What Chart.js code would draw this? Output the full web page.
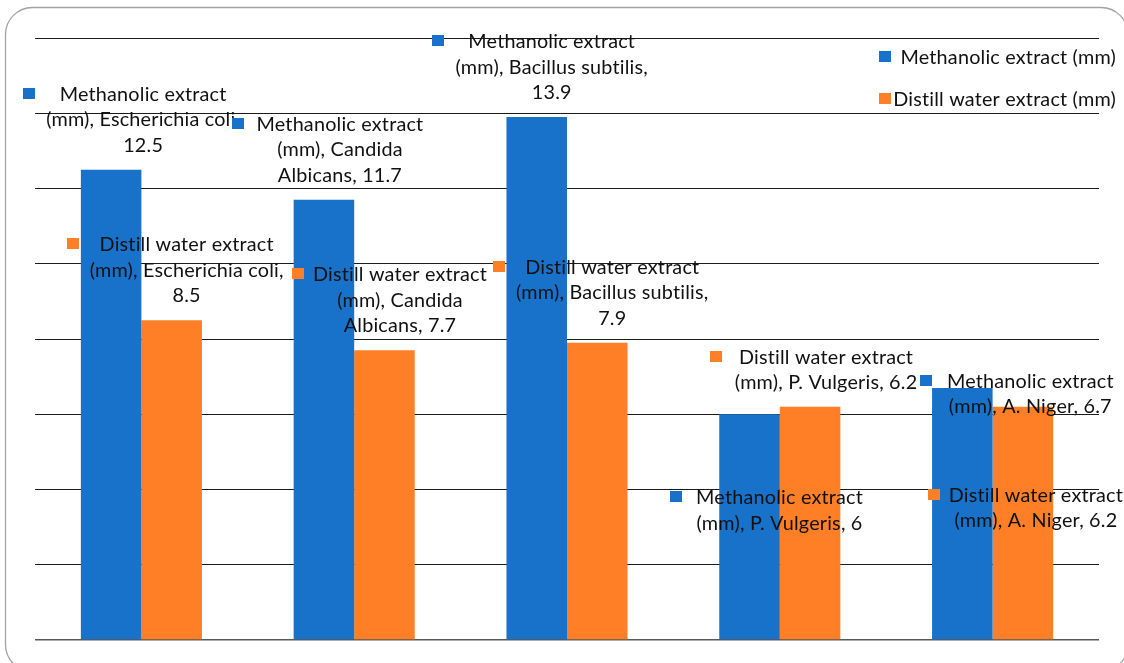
<!DOCTYPE html>
<html>
<head>
<meta charset="utf-8">
<script src="https://cdn.jsdelivr.net/npm/chart.js@4.4.1/dist/chart.umd.min.js"></script>
<style>
  html, body { margin: 0; padding: 0; background: #ffffff; }
  #wrap { width: 1124px; height: 663px; }
</style>
</head>
<body>
<div id="wrap"><canvas id="chart" width="1124" height="663"></canvas></div>
<script>
// Inhibition zones (mm) per organism
const categories = ['Escherichia coli', 'Candida Albicans', 'Bacillus subtilis', 'P. Vulgeris', 'A. Niger'];
const methanolic = [12.5, 11.7, 13.9, 6, 6.7];
const distillWater = [8.5, 7.7, 7.9, 6.2, 6.2];
const seriesNames = ['Methanolic extract (mm)', 'Distill water extract (mm)'];
const seriesColors = ['#1872c9', '#fe7f26'];
const yMin = 0, yMax = 16, yStep = 2;

// Label placement, offsets from the top centre of each bar
const labelLayout = [
  { dx: [32, 16, 15, 30, 68],  dy: [-76, -76, -76, 83, -7],  keyDx: [-120, -108, -120, -110, -110], wrap: [205, 185, 205, 205, 205] },
  { dx: [15, 15.5, 15, 16, 13], dy: [-76, -76, -76, -50, 88], keyDx: [-120, -108, -119, -116, -108], wrap: [205, 185, 205, 205, 205] }
];

const FONT_FAMILY = 'Lato, "Open Sans", sans-serif';
const FONT_SIZE = 19.8;
const LETTER_SPACING = '0.2px';
const LINE_H = 25.5;
const TEXT_COLOR = '#111111';

function setTextStyle(ctx) {
  ctx.font = FONT_SIZE + 'px ' + FONT_FAMILY;
  if ('letterSpacing' in ctx) ctx.letterSpacing = LETTER_SPACING;
}

function wrapText(ctx, text, maxW) {
  const words = text.split(' ');
  const lines = [];
  let cur = '';
  for (const w of words) {
    const test = cur ? cur + ' ' + w : w;
    if (cur && ctx.measureText(test).width > maxW) {
      lines.push(cur);
      cur = w;
    } else {
      cur = test;
    }
  }
  if (cur) lines.push(cur);
  return lines;
}

// white page and rounded outer frame
const framePlugin = {
  id: 'frame',
  beforeDraw(chart) {
    const ctx = chart.ctx;
    ctx.save();
    ctx.fillStyle = '#ffffff';
    ctx.fillRect(0, 0, chart.width, chart.height);
    ctx.restore();
  },
  afterDraw(chart) {
    const ctx = chart.ctx;
    ctx.save();
    ctx.strokeStyle = '#a3a3a3';
    ctx.lineWidth = 1.3;
    ctx.beginPath();
    ctx.roundRect(5.5, 7.5, 1122.5, 664, 27);
    ctx.stroke();
    ctx.restore();
  }
};

// data labels with legend keys
const labelPlugin = {
  id: 'barLabels',
  afterDatasetsDraw(chart) {
    const ctx = chart.ctx;
    ctx.save();
    setTextStyle(ctx);
    ctx.textAlign = 'center';
    ctx.textBaseline = 'alphabetic';
    chart.data.datasets.forEach((ds, d) => {
      const meta = chart.getDatasetMeta(d);
      const L = labelLayout[d];
      meta.data.forEach((bar, i) => {
        const text = seriesNames[d] + ', ' + chart.data.labels[i] + ', ' + ds.data[i];
        const lines = wrapText(ctx, text, L.wrap[i]);
        const cx = bar.x + L.dx[i];
        const y1 = bar.y + L.dy[i];
        ctx.fillStyle = ds.backgroundColor;
        ctx.fillRect(Math.round(cx + L.keyDx[i]), Math.round(y1 - 6), 12, 11);
        ctx.fillStyle = TEXT_COLOR;
        lines.forEach((ln, k) => ctx.fillText(ln, cx, y1 + 7 + k * LINE_H));
      });
    });
    ctx.restore();
  }
};

// legend in the top-right corner
const legendPlugin = {
  id: 'cornerLegend',
  afterDraw(chart) {
    const ctx = chart.ctx;
    ctx.save();
    setTextStyle(ctx);
    ctx.textAlign = 'right';
    ctx.textBaseline = 'alphabetic';
    chart.data.datasets.forEach((ds, d) => {
      const y = 57 + d * 42;
      ctx.fillStyle = ds.backgroundColor;
      ctx.fillRect(879, y - 6, 12, 11);
      ctx.fillStyle = TEXT_COLOR;
      ctx.fillText(ds.label, 1116, y + 7);
    });
    ctx.restore();
  }
};

new Chart(document.getElementById('chart'), {
  type: 'bar',
  data: {
    labels: categories,
    datasets: [
      { label: seriesNames[0], data: methanolic, backgroundColor: seriesColors[0], borderWidth: 0, categoryPercentage: 0.569, barPercentage: 1.0 },
      { label: seriesNames[1], data: distillWater, backgroundColor: seriesColors[1], borderWidth: 0, categoryPercentage: 0.569, barPercentage: 1.0 }
    ]
  },
  options: {
    responsive: false,
    animation: false,
    devicePixelRatio: 1,
    layout: { padding: { left: 35, right: 25, top: 38, bottom: 23 } },
    plugins: { legend: { display: false }, tooltip: { enabled: false } },
    scales: {
      x: { display: false },
      y: {
        min: yMin, max: yMax,
        ticks: { display: false, stepSize: yStep },
        border: { display: false },
        grid: {
          drawTicks: false,
          color: (c) => c.tick && c.tick.value === 0 ? '#595959' : '#1c1c1c',
          lineWidth: (c) => c.tick && c.tick.value === 0 ? 1.6 : 1
        }
      }
    }
  },
  plugins: [framePlugin, labelPlugin, legendPlugin]
});
</script>
</body>
</html>
